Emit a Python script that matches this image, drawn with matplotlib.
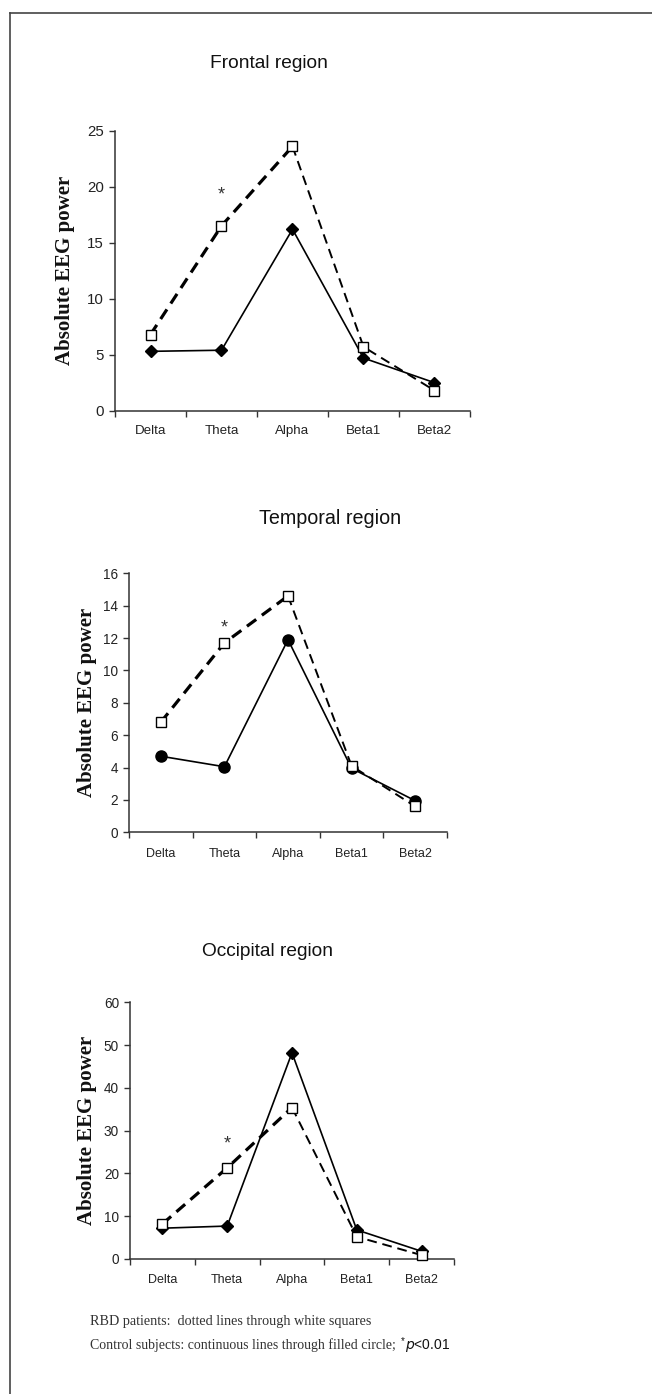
import matplotlib
matplotlib.use("Agg")
import matplotlib.pyplot as plt
from matplotlib.lines import Line2D

# ---------------- data ----------------
bands = ["Delta", "Theta", "Alpha", "Beta1", "Beta2"]

frontal_rbd = [6.8, 16.5, 23.6, 5.7, 1.8]
frontal_ctrl = [5.3, 5.4, 16.2, 4.7, 2.5]

temporal_rbd = [6.8, 11.7, 14.6, 4.1, 1.6]
temporal_ctrl = [4.7, 4.05, 11.9, 3.95, 1.95]

occipital_rbd = [8.2, 21.3, 35.4, 5.2, 0.9]
occipital_ctrl = [7.2, 7.7, 48.2, 6.8, 1.8]

titles = ["Frontal region", "Temporal region", "Occipital region"]
ylims = [25, 16, 60]
ysteps = [5, 2, 10]
star_values = [19.3, 12.6, 27.0]   # position of the significance asterisk (Theta)
ylabel = "Absolute EEG power"
note1 = "RBD patients:  dotted lines through white squares"
note2 = "Control subjects: continuous lines through filled circle; "
note3 = "p<0.01"

# ---------------- figure ----------------
W, H = 652, 1394
fig = plt.figure(figsize=(W / 100, H / 100), dpi=100)
fig.patch.set_facecolor("white")

# page frame (top and left edges only)
fig.add_artist(Line2D([10 / W, 1.0], [1 - 13 / H, 1 - 13 / H], color="#444444", lw=1.2,
                      transform=fig.transFigure))
fig.add_artist(Line2D([10 / W, 10 / W], [1 - 13 / H, 0.0], color="#444444", lw=1.2,
                      transform=fig.transFigure))

def px_box(left, right, bottom, top):
    return [left / W, 1 - bottom / H, (right - left) / W, (bottom - top) / H]

panels = [
    dict(box=px_box(115, 470, 410.7, 130.7), rbd=frontal_rbd, ctrl=frontal_ctrl,
         marker="D", ms=6.5, title_xy=(269, 63), title_fs=13.8, ylab_x=65,
         ytick_fs=10.8, xtick_fs=9.6, xlab_pad=10),
    dict(box=px_box(129, 447, 832.3, 573.3), rbd=temporal_rbd, ctrl=temporal_ctrl,
         marker="o", ms=8, title_xy=(330, 519), title_fs=14.2, ylab_x=87,
         ytick_fs=9.8, xtick_fs=9.0, xlab_pad=11),
    dict(box=px_box(130, 454, 1259, 1002.3), rbd=occipital_rbd, ctrl=occipital_ctrl,
         marker="D", ms=6.5, title_xy=(267, 952), title_fs=13.8, ylab_x=87,
         ytick_fs=9.8, xtick_fs=9.0, xlab_pad=11),
]

text_col = "#222222"
x = list(range(1, len(bands) + 1))

for i, p in enumerate(panels):
    ax = fig.add_axes(p["box"])
    ax.set_facecolor("white")
    ax.set_xlim(0.5, len(bands) + 0.5)
    ax.set_ylim(0, ylims[i])
    ax.set_yticks(list(range(0, ylims[i] + 1, ysteps[i])))
    ax.tick_params(axis="y", direction="out", length=4, width=1, colors="#333333",
                   labelsize=p["ytick_fs"], labelcolor=text_col, pad=4)
    # category boundaries as major ticks, labels on minor ticks at centers
    ax.set_xticks([b + 0.5 for b in range(0, len(bands) + 1)])
    ax.set_xticklabels([])
    ax.set_xticks(x, minor=True)
    ax.set_xticklabels(bands, minor=True)
    ax.tick_params(axis="x", which="major", direction="out", length=4, width=1,
                   colors="#333333")
    ax.tick_params(axis="x", which="minor", length=0, labelsize=p["xtick_fs"],
                   labelcolor=text_col, pad=p["xlab_pad"])
    for lab in ax.get_xticklabels(minor=True) + ax.get_yticklabels():
        lab.set_family(["Liberation Sans", "DejaVu Sans"])
    for s in ["top", "right"]:
        ax.spines[s].set_visible(False)
    for s in ["left", "bottom"]:
        ax.spines[s].set_color("#333333")
        ax.spines[s].set_linewidth(1.1)

    rbd = p["rbd"]
    ctrl = p["ctrl"]
    # control: continuous line through filled markers
    ax.plot(x, ctrl, color="black", lw=1.2, marker=p["marker"], ms=p["ms"],
            mfc="black", mec="black", zorder=3, clip_on=False)
    # RBD: dashed line through white squares (thicker on the rising part)
    ax.plot(x[:3], rbd[:3], color="black", lw=2.3, ls=(0, (3.6, 2.2)), zorder=2,
            clip_on=False)
    ax.plot(x[2:], rbd[2:], color="black", lw=1.4, ls=(0, (5, 3)), zorder=2,
            clip_on=False)
    ax.plot(x, rbd, ls="none", marker="s", ms=6.5, mfc="white", mec="black",
            mew=1.0, zorder=4, clip_on=False)
    # significance asterisk at Theta
    ax.text(x[1], star_values[i], "*", ha="center", va="center", fontsize=13,
            color="#333333", family=["Liberation Sans", "DejaVu Sans"])

    # y label
    fig.text(p["ylab_x"] / W, (p["box"][1] + p["box"][3] / 2), ylabel, rotation=90,
             ha="center", va="center", fontsize=15, fontweight="bold",
             family=["Liberation Serif", "DejaVu Serif"], color="#111111")
    # title
    fig.text(p["title_xy"][0] / W, 1 - p["title_xy"][1] / H, titles[i], ha="center",
             va="center", fontsize=p["title_fs"], color="#111111",
             family=["Liberation Sans", "DejaVu Sans"])

# footnote
serif = ["Liberation Serif", "DejaVu Serif"]
fig.text(90 / W, 1 - 1321 / H, note1, ha="left", va="center", fontsize=10.2,
         family=serif, color="#333333")
t2 = fig.text(90 / W, 1 - 1345 / H, note2, ha="left", va="center", fontsize=10.0,
              family=serif, color="#333333")
fig.canvas.draw()
bb = t2.get_window_extent()
xend = bb.x1 / W
fig.text(xend + 1 / W, 1 - 1341 / H, "*", ha="left", va="center", fontsize=7,
         family=["Liberation Sans", "DejaVu Sans"], color="#111111")
fig.text(xend + 6 / W, 1 - 1346 / H, r"$\it{p}$" + "<0.01", ha="left", va="center",
         fontsize=10, family=["Liberation Sans", "DejaVu Sans"], color="#111111")

fig.savefig("out.png", dpi=100, facecolor="white")
